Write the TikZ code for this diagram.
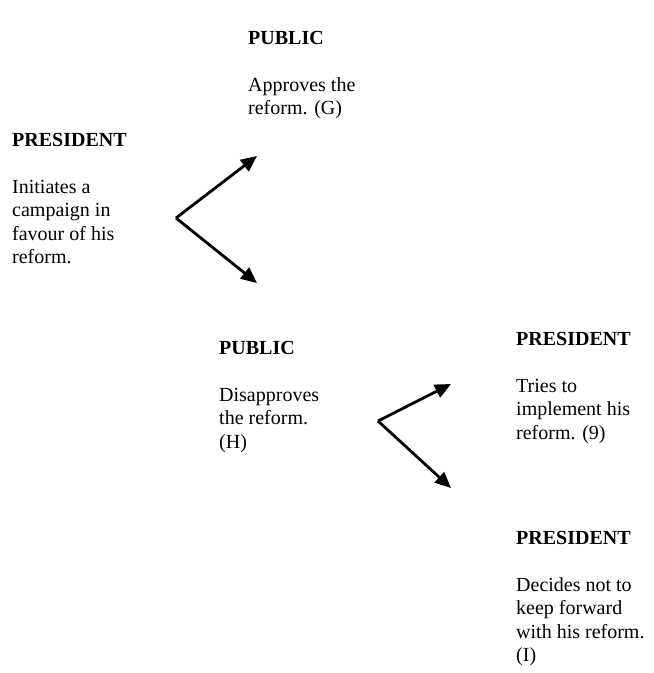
\documentclass[tikz,border=0pt]{standalone}
\usepackage{fontspec}
\setmainfont{Liberation Serif}
\usetikzlibrary{positioning,arrows.meta}

\tikzset{
  player/.style={anchor=north west, inner sep=0pt, align=left,
                 font=\fontsize{20}{23.5}\selectfont},
  choice/.style={line width=2.8pt, -{Triangle[length=16pt,width=14pt]}}
}

\begin{document}
\begin{tikzpicture}[x=1pt,y=-1pt]
   \useasboundingbox (0,0) rectangle (654,673);
   % who moves and what they do
   \node[player] (pub1)  at (248,31)  {\textbf{PUBLIC}\\[23.5pt]Approves the\\reform. (G)};
   \node[player] (pres1) at (12,133)  {\textbf{PRESIDENT}\\[23.5pt]Initiates a\\campaign in\\favour of his\\reform.};
   \node[player] (pub2)  at (219,341) {\textbf{PUBLIC}\\[23.5pt]Disapproves\\the reform.\\(H)};
   \node[player] (pres2) at (516,332) {\textbf{PRESIDENT}\\[23.5pt]Tries to\\implement his\\reform. (9)};
   \node[player] (pres3) at (516,531) {\textbf{PRESIDENT}\\[23.5pt]Decides not to\\keep forward\\with his reform.\\(I)};
   % branches
   \coordinate (fork1) at (176,218);
   \coordinate (yes1)  at (257,156);
   \coordinate (no1)   at (257,283);
   \coordinate (fork2) at (378,421);
   \coordinate (yes2)  at (451,384);
   \coordinate (no2)   at (451,488);
   \draw[choice] (fork1) -- (yes1);
   \draw[choice] (fork1) -- (no1);
   \draw[choice] (fork2) -- (yes2);
   \draw[choice] (fork2) -- (no2);
\end{tikzpicture}
\end{document}
